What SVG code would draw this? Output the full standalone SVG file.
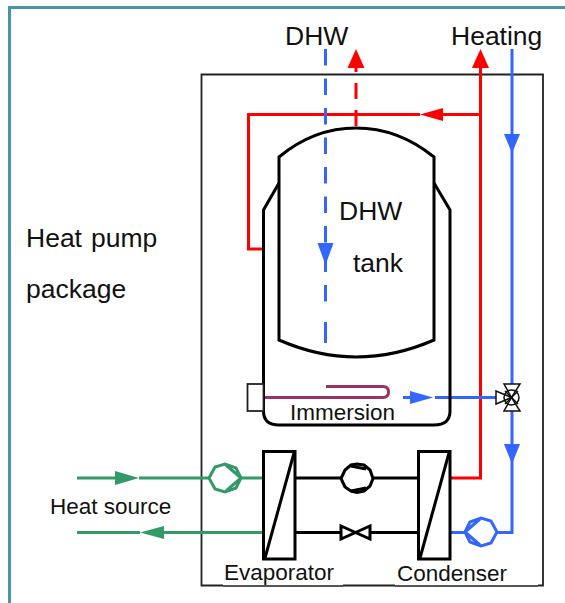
<svg xmlns="http://www.w3.org/2000/svg" width="565" height="603" viewBox="0 0 565 603">
<style>
text{font-family:"Liberation Sans",Arial,sans-serif;fill:#111}
.t26{font-size:26.500px}.t22{font-size:22.500px}
.s{fill:none;stroke:#000;stroke-width:3}
.w{fill:#fff;stroke:#000;stroke-width:3}
.r{fill:none;stroke:#f00;stroke-width:3}
.b{fill:none;stroke:#3366ff;stroke-width:3}
.g{fill:none;stroke:#339966;stroke-width:3}
.rf{fill:#f00}.bf{fill:#3366ff}.gf{fill:#339966}
</style>
<rect width="565" height="603" fill="#fff"/>
<g id="package-border"><path d="M9.500 603V7.500H565" fill="none" stroke="#4a95a3" stroke-width="3"/></g>
<g id="package-box"><path d="M223 585.500H201.500V74.500H543V585.500H538" fill="none" stroke="#222" stroke-width="1.800"/>
<path d="M223 586H343" stroke="#555" stroke-width="2" fill="none"/><path d="M343 585.500H395" stroke="#222" stroke-width="2" fill="none"/><path d="M395 586H538" stroke="#555" stroke-width="2" fill="none"/></g>
<g id="connectors">
<path class="r" d="M450 478H480.500V68M480 114.500H443M420 114.500H248.500V249H263"/>
<path class="r" d="M356 128V68" stroke-dasharray="16 11" stroke-dashoffset="-2"/>
<path class="rf" d="M480.500 49L489 68H472Z"/>
<path class="rf" d="M356 49L364.500 68H347.500Z"/>
<path class="rf" d="M420 114.500L443 108V121Z"/>
<path class="b" d="M325.500 49V304" stroke-width="2.500" stroke-dasharray="16.500 13"/>
<path class="b" d="M325.500 322V343" stroke-width="2.500"/>
<path class="bf" d="M325.500 265L317.500 243H333.500Z"/>
<path class="b" d="M512 49V384M512 411V532.500H450"/>
<path class="bf" d="M512 153L504 134H520Z"/>
<path class="bf" d="M512 464L504 444H520Z"/>
<path class="b" d="M403 397.500H410M435 397.500H496"/>
<path class="bf" d="M433 397.500L410 391V404Z"/>
<path class="g" d="M77 478H115M139 478H263M77 532.500H140M164 532.500H263"/>
<path class="gf" d="M139 478L115 471V485Z"/>
<path class="gf" d="M140 532.500L164 526V539Z"/>
<path class="s" d="M295 478H418.500M295 532.500H418.500"/>
</g>
<g id="dhw-tank">
<path class="s" d="M279 183L263.500 210V411Q263.500 425 279 425H434Q450 425 450 411V210L434 183"/>
<path class="s" d="M279 340V157Q314 128 356 128Q398 128 434 157V340Q395 357 356 357Q318 357 279 340Z"/>
<text class="t26" x="339" y="219.500">DHW</text>
<text class="t26" x="353" y="272">tank</text>
</g>
<g id="immersion">
<rect x="247.500" y="384" width="16" height="27" fill="#fff" stroke="#222" stroke-width="1.800"/>
<path d="M265 397.500H383Q388.500 397.500 388.500 392Q388.500 386.500 383 386.500H326" fill="none" stroke="#993366" stroke-width="3"/>
<text class="t22" x="290" y="420">Immersion</text>
</g>
<g id="three-way-valve" fill="#fff" stroke="#111" stroke-width="1.500">
<path d="M496 391L511.500 397.500L496 404Z"/>
<path d="M504 384H520L511.500 397.500Z"/>
<path d="M504 411H520L511.500 397.500Z"/>
<circle cx="511.500" cy="397.500" r="7.500" fill="none"/>
<path d="M505 391L518 404M518 391L505 404" fill="none"/>
</g>
<g id="evaporator"><rect class="w" x="263.500" y="451.500" width="31.500" height="107.500"/><path class="s" d="M265 558L294 453"/><text class="t22" x="224" y="580">Evaporator</text></g>
<g id="condenser"><rect class="w" x="418.500" y="451.500" width="31.500" height="107.500"/><path class="s" d="M420 558L449 453"/><text class="t22" x="397" y="581">Condenser</text></g>
<g id="compressor"><path class="w" d="M341 478.500L345 470L351 465L357 464L364 465L370 470L373 478.500L370 486L364 491L357 492.500L351 491L345 487Z"/><path class="s" d="M351 466L366 469M351 491L366 488" stroke-width="1.500"/></g>
<g id="expansion-valve"><path class="w" d="M341 526V539L370 526V539Z" stroke-width="2.500"/></g>
<g id="heating-pump"><path d="M465 532L470 522L481 518L491 521L497 532L491 543L481 546L470 542Z" fill="#fff" stroke="#3366ff" stroke-width="3"/><path class="b" d="M480 519L465 532L480 545" stroke-width="2.500"/></g>
<g id="source-pump"><path d="M209 478L215 467L225 464L236 468L241 478L236 488L225 492L215 489Z" fill="#fff" stroke="#339966" stroke-width="3"/><path class="g" d="M226 465L241 478L226 491" stroke-width="2.500"/></g>
<g id="labels">
<text class="t26" x="285" y="45">DHW</text>
<text class="t26" x="451" y="45">Heating</text>
<text class="t26" x="26" y="247">Heat</text>
<text class="t26" x="91" y="247">pump</text>
<text class="t26" x="26" y="298">package</text>
<text class="t22" x="50" y="514">Heat source</text>
</g>
</svg>
